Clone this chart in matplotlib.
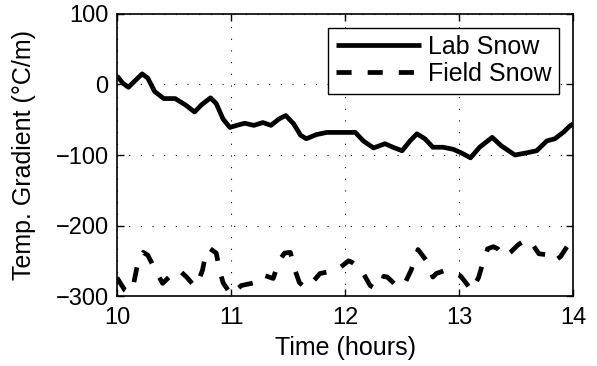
import matplotlib
matplotlib.use('Agg')
import matplotlib.pyplot as plt

plt.rcParams['font.family'] = ['Liberation Sans', 'DejaVu Sans']

# Lab snow (solid line)
lab_t = [10.00, 10.01, 10.05, 10.10, 10.15, 10.22, 10.27, 10.33, 10.41, 10.51, 10.60,
         10.68, 10.74, 10.82, 10.87, 10.93, 10.99, 11.05, 11.12, 11.20, 11.28, 11.35,
         11.42, 11.48, 11.55, 11.61, 11.66, 11.75, 11.84, 11.99, 12.09, 12.16, 12.25,
         12.35, 12.42, 12.50, 12.57, 12.63, 12.70, 12.77, 12.86, 12.95, 13.02, 13.10,
         13.18, 13.29, 13.37, 13.49, 13.59, 13.68, 13.77, 13.84, 13.92, 13.97, 14.00]
lab_y = [12, 10, 2, -4, 4, 15, 9, -10, -20, -20, -29,
         -39, -29, -19, -27, -49, -61, -58, -55, -58, -54, -58,
         -49, -44, -56, -72, -77, -71, -68, -68, -68, -80, -90,
         -84, -89, -94, -80, -70, -77, -89, -89, -92, -97, -104,
         -89, -75, -87, -100, -97, -94, -80, -77, -67, -59, -56]

# Field snow (dashed line)
field_t = [10.00, 10.07, 10.10, 10.14, 10.19, 10.23, 10.27, 10.33, 10.40, 10.50, 10.55,
           10.61, 10.68, 10.70, 10.75, 10.78, 10.81, 10.87, 10.90, 10.93, 11.00, 11.09,
           11.21, 11.28, 11.37, 11.42, 11.47, 11.52, 11.56, 11.60, 11.65, 11.70, 11.78,
           11.81, 11.93, 12.03, 12.06, 12.12, 12.15, 12.22, 12.26, 12.32, 12.34, 12.37,
           12.45, 12.49, 12.53, 12.58, 12.64, 12.71, 12.77, 12.80, 12.87, 12.91, 13.01,
           13.04, 13.11, 13.17, 13.21, 13.25, 13.30, 13.34, 13.40, 13.45, 13.52, 13.57,
           13.62, 13.70, 13.80, 13.84, 13.89, 13.97, 14.00]
field_y = [-274, -292, -295, -287, -247, -238, -242, -261, -282, -266, -264,
           -273, -286, -285, -263, -239, -232, -239, -263, -281, -298, -285,
           -281, -270, -275, -250, -239, -238, -263, -281, -288, -283, -268,
           -267, -263, -250, -252, -259, -265, -285, -289, -283, -272, -273,
           -285, -287, -280, -263, -234, -249, -273, -268, -264, -265, -271,
           -277, -292, -274, -252, -233, -230, -233, -244, -238, -227, -222,
           -221, -240, -242, -250, -244, -224, -222]

fig = plt.figure(figsize=(5.97, 3.66), dpi=100)
ax = fig.add_axes([0.196, 0.191, 0.764, 0.771])

ax.plot(lab_t, lab_y, color='black', linewidth=3.4, solid_joinstyle='round',
        solid_capstyle='butt', label='Lab Snow')
ax.plot(field_t, field_y, color='black', linewidth=3.4, linestyle=(0, (3.2, 3.4)),
        dash_joinstyle='round', label='Field Snow')

ax.set_xlim(10, 14)
ax.set_ylim(-300, 100)
ax.set_xticks([10, 11, 12, 13, 14])
ax.set_yticks([-300, -200, -100, 0, 100])
ax.set_yticklabels(['\u2212300', '\u2212200', '\u2212100', '0', '100'])
ax.tick_params(direction='in', top=True, right=True, labelsize=17, length=5, width=1)
ax.tick_params(axis='x', pad=8)
ax.tick_params(axis='y', pad=6)
ax.grid(True, linestyle=(0, (1, 9.5)), color='black', linewidth=0.8)
for s in ax.spines.values():
    s.set_linewidth(1.2)

ax.set_xlabel('Time (hours)', fontsize=18, labelpad=5)
ax.set_ylabel('Temp. Gradient (\u00b0C/m)', fontsize=18, labelpad=14)

leg = ax.legend(loc='upper right', fontsize=18, handlelength=3.4, fancybox=False,
                framealpha=1, edgecolor='black', borderaxespad=0.55, labelspacing=0.12,
                handletextpad=0.3, borderpad=0.3)
leg.get_frame().set_linewidth(1.0)

fig.savefig('out.png', dpi=100)
